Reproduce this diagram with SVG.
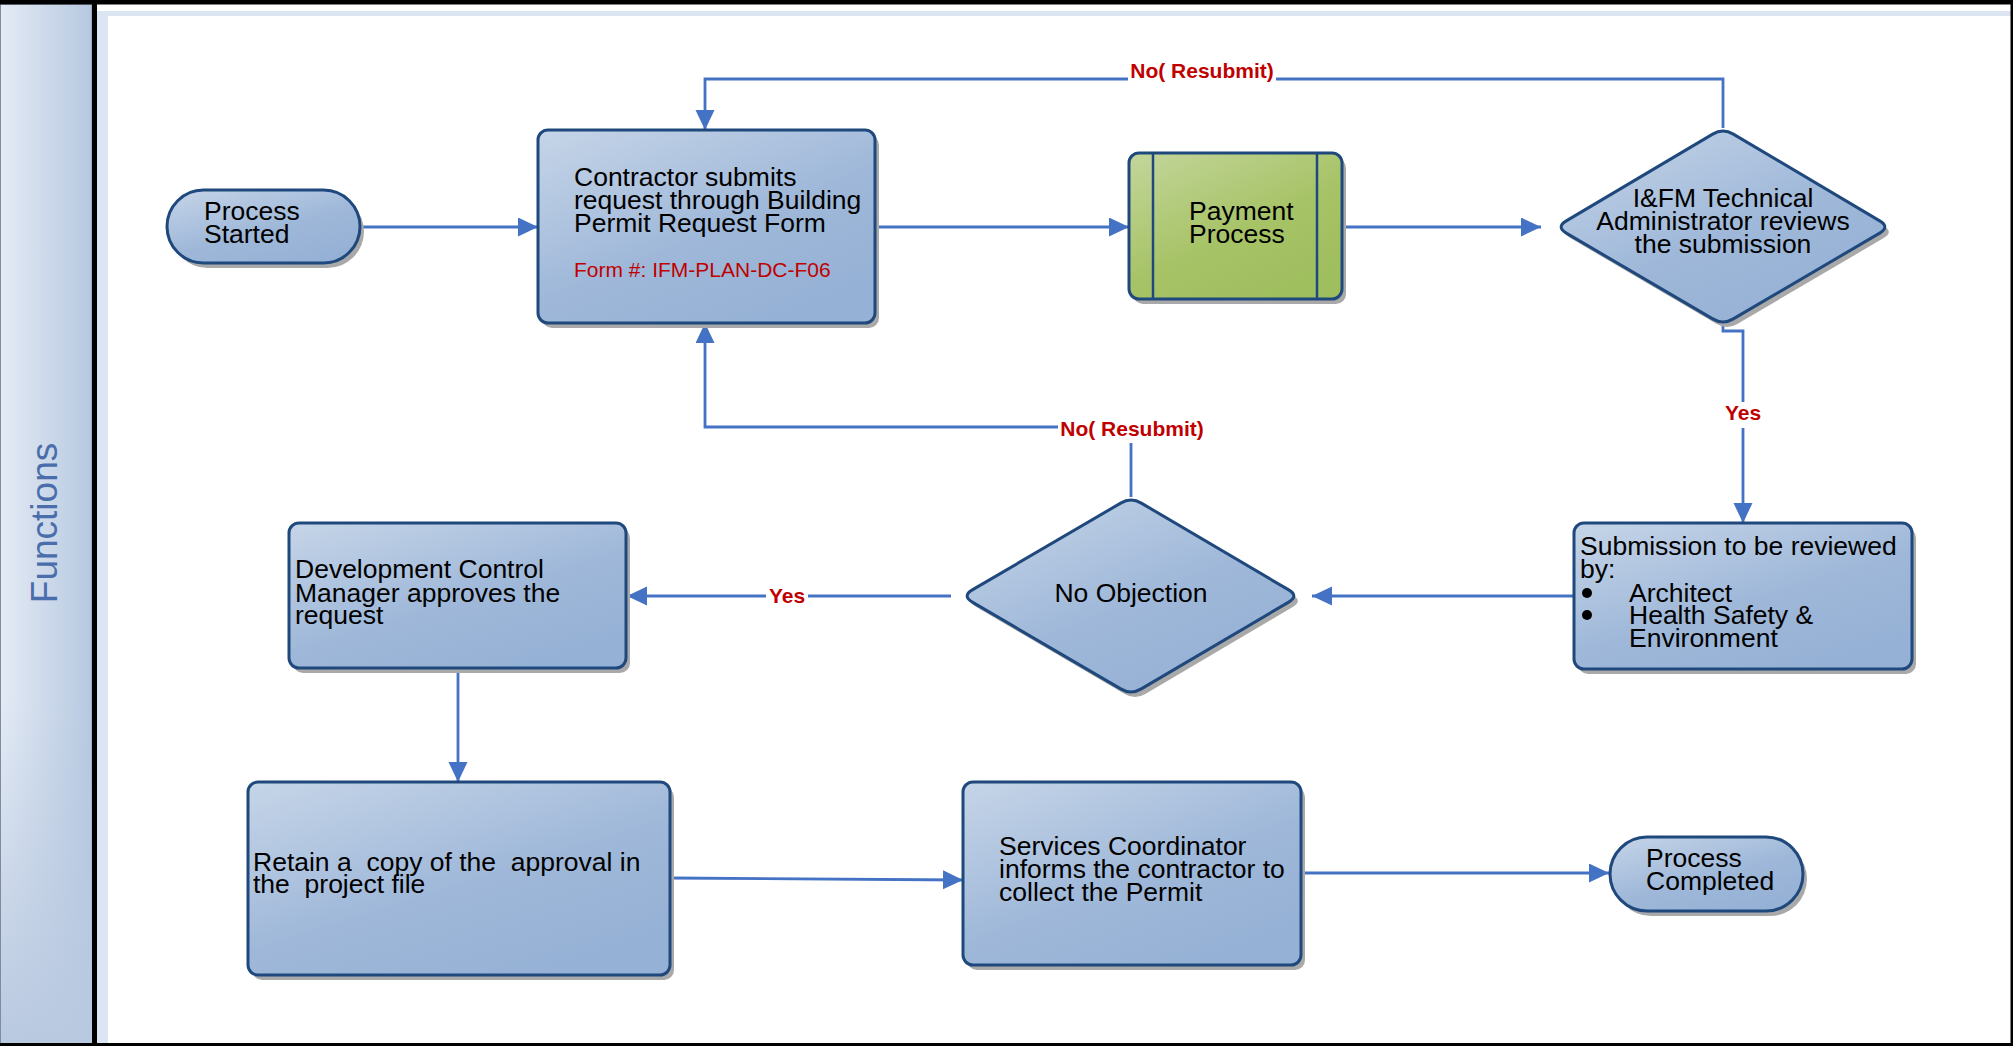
<svg xmlns="http://www.w3.org/2000/svg" width="2013" height="1046" viewBox="0 0 2013 1046">
<defs>
<linearGradient id="gBlue" x1="0" y1="0" x2="0.7" y2="1">
<stop offset="0" stop-color="#c6d5e8"/>
<stop offset="0.6" stop-color="#9fb8d9"/>
<stop offset="1" stop-color="#95b1d5"/>
</linearGradient>
<linearGradient id="gGreen" x1="0" y1="0" x2="0.7" y2="1">
<stop offset="0" stop-color="#c3d69b"/>
<stop offset="0.6" stop-color="#a7c367"/>
<stop offset="1" stop-color="#9fbe5e"/>
</linearGradient>
<linearGradient id="gLane" x1="0" y1="0" x2="1" y2="0">
<stop offset="0" stop-color="#e4ebf5"/>
<stop offset="1" stop-color="#b6c8e0"/>
</linearGradient>
<linearGradient id="gLaneV" x1="0" y1="0" x2="0" y2="1">
<stop offset="0" stop-color="#b9c9e0" stop-opacity="0"/>
<stop offset="1" stop-color="#b9c9e0" stop-opacity="1"/>
</linearGradient>
<marker id="arr" markerUnits="userSpaceOnUse" markerWidth="21" markerHeight="20" refX="20" refY="9.5" orient="auto">
<path d="M0,0 L20,9.5 L0,19 Z" fill="#4472c4"/>
</marker>
<style>
.node{fill:url(#gBlue);stroke:#1f497d;stroke-width:3}
.green{fill:url(#gGreen);stroke:#1f497d;stroke-width:3}
.shadow{fill:#a9a9a9;stroke:none}
.t{font-family:"Liberation Sans",Arial,sans-serif;font-size:26.5px;fill:#000}
.mid{text-anchor:middle}
.red{font-family:"Liberation Sans",Arial,sans-serif;font-size:21px;fill:#c00000}
.lbl{font-family:"Liberation Sans",Arial,sans-serif;font-size:21px;font-weight:bold;fill:#c00000;text-anchor:middle}
.conn{fill:none;stroke:#4472c4;stroke-width:2.8}
.arrow{marker-end:url(#arr)}
</style>
</defs>

<g id="frame">
<rect x="0" y="0" width="2013" height="1046" fill="#ffffff"/>
<rect x="0.5" y="4" width="91.5" height="1039" fill="url(#gLane)" stroke="#7d8ca3" stroke-width="1"/>
<rect x="1" y="700" width="91" height="343" fill="url(#gLaneV)"/>
<rect x="97" y="11" width="1914" height="5" fill="#dce6f2"/>
<rect x="97" y="11" width="11" height="1032" fill="#dce6f2"/>
<rect x="0" y="0" width="2013" height="4.5" fill="#000"/>
<rect x="92" y="0" width="5" height="1046" fill="#000"/>
<rect x="2010.5" y="0" width="2.5" height="1046" fill="#000"/>
<rect x="0" y="1043" width="2013" height="3" fill="#000"/>
<text transform="translate(57,523) rotate(-90)" text-anchor="middle" font-family="'Liberation Sans',Arial,sans-serif" font-size="37" fill="#4a6eab">Functions</text>
</g>

<g id="connectors">
<path class="conn arrow" d="M360,227 H538"/>
<path class="conn arrow" d="M875,227 H1129"/>
<path class="conn arrow" d="M1342,227 H1541"/>
<path class="conn arrow" d="M1723,325 V331 H1743 V523"/>
<path class="conn arrow" d="M1723,128 V79 H705 V130"/>
<path class="conn arrow" d="M1574,596 H1312"/>
<path class="conn arrow" d="M1131,497 V427 H705 V323"/>
<path class="conn arrow" d="M951,596 H627"/>
<path class="conn arrow" d="M458,668 V782"/>
<path class="conn arrow" d="M670,878 L963,880"/>
<path class="conn arrow" d="M1301,873 H1609"/>
<rect x="1128" y="60" width="148" height="24" fill="#fff"/>
<text class="lbl" x="1202" y="78">No( Resubmit)</text>
<rect x="1058" y="414" width="149" height="29" fill="#fff"/>
<text class="lbl" x="1132" y="436">No( Resubmit)</text>
<rect x="1722" y="402" width="42" height="26" fill="#fff"/>
<text class="lbl" x="1743" y="420">Yes</text>
<rect x="766" y="585" width="42" height="22" fill="#fff"/>
<text class="lbl" x="787" y="603">Yes</text>
</g>

<g id="process-started">
<rect class="shadow" x="171" y="195" width="193" height="73" rx="36.5"/>
<rect class="node" x="167" y="190" width="193" height="73" rx="36.5"/>
<text class="t"><tspan x="204" y="220">Process</tspan><tspan x="204" y="243">Started</tspan></text>
</g>

<g id="contractor-submits">
<rect class="shadow" x="542" y="135" width="337" height="193" rx="10"/>
<rect class="node" x="538" y="130" width="337" height="193" rx="10"/>
<text class="t"><tspan x="574" y="186">Contractor submits</tspan><tspan x="574" y="209">request through Building</tspan><tspan x="574" y="232">Permit Request Form</tspan></text>
<text class="red" x="574" y="277">Form #: IFM-PLAN-DC-F06</text>
</g>

<g id="payment-process">
<rect class="shadow" x="1133" y="158" width="213" height="146" rx="10"/>
<rect class="green" x="1129" y="153" width="213" height="146" rx="10"/>
<line x1="1153" y1="154" x2="1153" y2="298" stroke="#1f497d" stroke-width="2.5"/>
<line x1="1317" y1="154" x2="1317" y2="298" stroke="#1f497d" stroke-width="2.5"/>
<text class="t"><tspan x="1189" y="220">Payment</tspan><tspan x="1189" y="243">Process</tspan></text>
</g>

<g id="technical-review">
<path class="shadow" transform="translate(4,5)" d="M1712.7,134.1 Q1723,128 1733.3,134.1 L1879.7,220.9 Q1890,227 1879.7,233.1 L1733.3,318.9 Q1723,325 1712.7,318.9 L1566.3,233.1 Q1556,227 1566.3,220.9 Z"/>
<path class="node" d="M1712.7,134.1 Q1723,128 1733.3,134.1 L1879.7,220.9 Q1890,227 1879.7,233.1 L1733.3,318.9 Q1723,325 1712.7,318.9 L1566.3,233.1 Q1556,227 1566.3,220.9 Z"/>
<text class="t mid"><tspan x="1723" y="207">I&amp;FM Technical</tspan><tspan x="1723" y="230">Administrator reviews</tspan><tspan x="1723" y="253">the submission</tspan></text>
</g>

<g id="submission-reviewed">
<rect class="shadow" x="1578" y="528" width="338" height="146" rx="10"/>
<rect class="node" x="1574" y="523" width="338" height="146" rx="10"/>
<circle cx="1587" cy="593" r="5" fill="#000"/>
<circle cx="1587" cy="615" r="5" fill="#000"/>
<text class="t"><tspan x="1580" y="555">Submission to be reviewed</tspan><tspan x="1580" y="578">by:</tspan><tspan x="1629" y="602">Architect</tspan><tspan x="1629" y="624">Health Safety &amp;</tspan><tspan x="1629" y="647">Environment</tspan></text>
</g>

<g id="no-objection">
<path class="shadow" transform="translate(4,5)" d="M1120.7,503.1 Q1131,497 1141.3,503.1 L1288.7,589.9 Q1299,596 1288.7,602.1 L1141.3,688.9 Q1131,695 1120.7,688.9 L972.3,602.1 Q962,596 972.3,589.9 Z"/>
<path class="node" d="M1120.7,503.1 Q1131,497 1141.3,503.1 L1288.7,589.9 Q1299,596 1288.7,602.1 L1141.3,688.9 Q1131,695 1120.7,688.9 L972.3,602.1 Q962,596 972.3,589.9 Z"/>
<text class="t mid" x="1131" y="602">No Objection</text>
</g>

<g id="dev-control-approves">
<rect class="shadow" x="293" y="528" width="337" height="145" rx="10"/>
<rect class="node" x="289" y="523" width="337" height="145" rx="10"/>
<text class="t"><tspan x="295" y="578">Development Control</tspan><tspan x="295" y="602">Manager approves the</tspan><tspan x="295" y="624">request</tspan></text>
</g>

<g id="retain-copy">
<rect class="shadow" x="252" y="787" width="422" height="193" rx="10"/>
<rect class="node" x="248" y="782" width="422" height="193" rx="10"/>
<text class="t" xml:space="preserve"><tspan x="253" y="871">Retain a  copy of the  approval in</tspan><tspan x="253" y="893">the  project file</tspan></text>
</g>

<g id="services-coordinator">
<rect class="shadow" x="967" y="787" width="338" height="183" rx="10"/>
<rect class="node" x="963" y="782" width="338" height="183" rx="10"/>
<text class="t"><tspan x="999" y="855">Services Coordinator</tspan><tspan x="999" y="878">informs the contractor to</tspan><tspan x="999" y="901">collect the Permit</tspan></text>
</g>

<g id="process-completed">
<rect class="shadow" x="1614" y="842" width="193" height="74" rx="37"/>
<rect class="node" x="1610" y="837" width="193" height="74" rx="37"/>
<text class="t"><tspan x="1646" y="867">Process</tspan><tspan x="1646" y="890">Completed</tspan></text>
</g>
</svg>
